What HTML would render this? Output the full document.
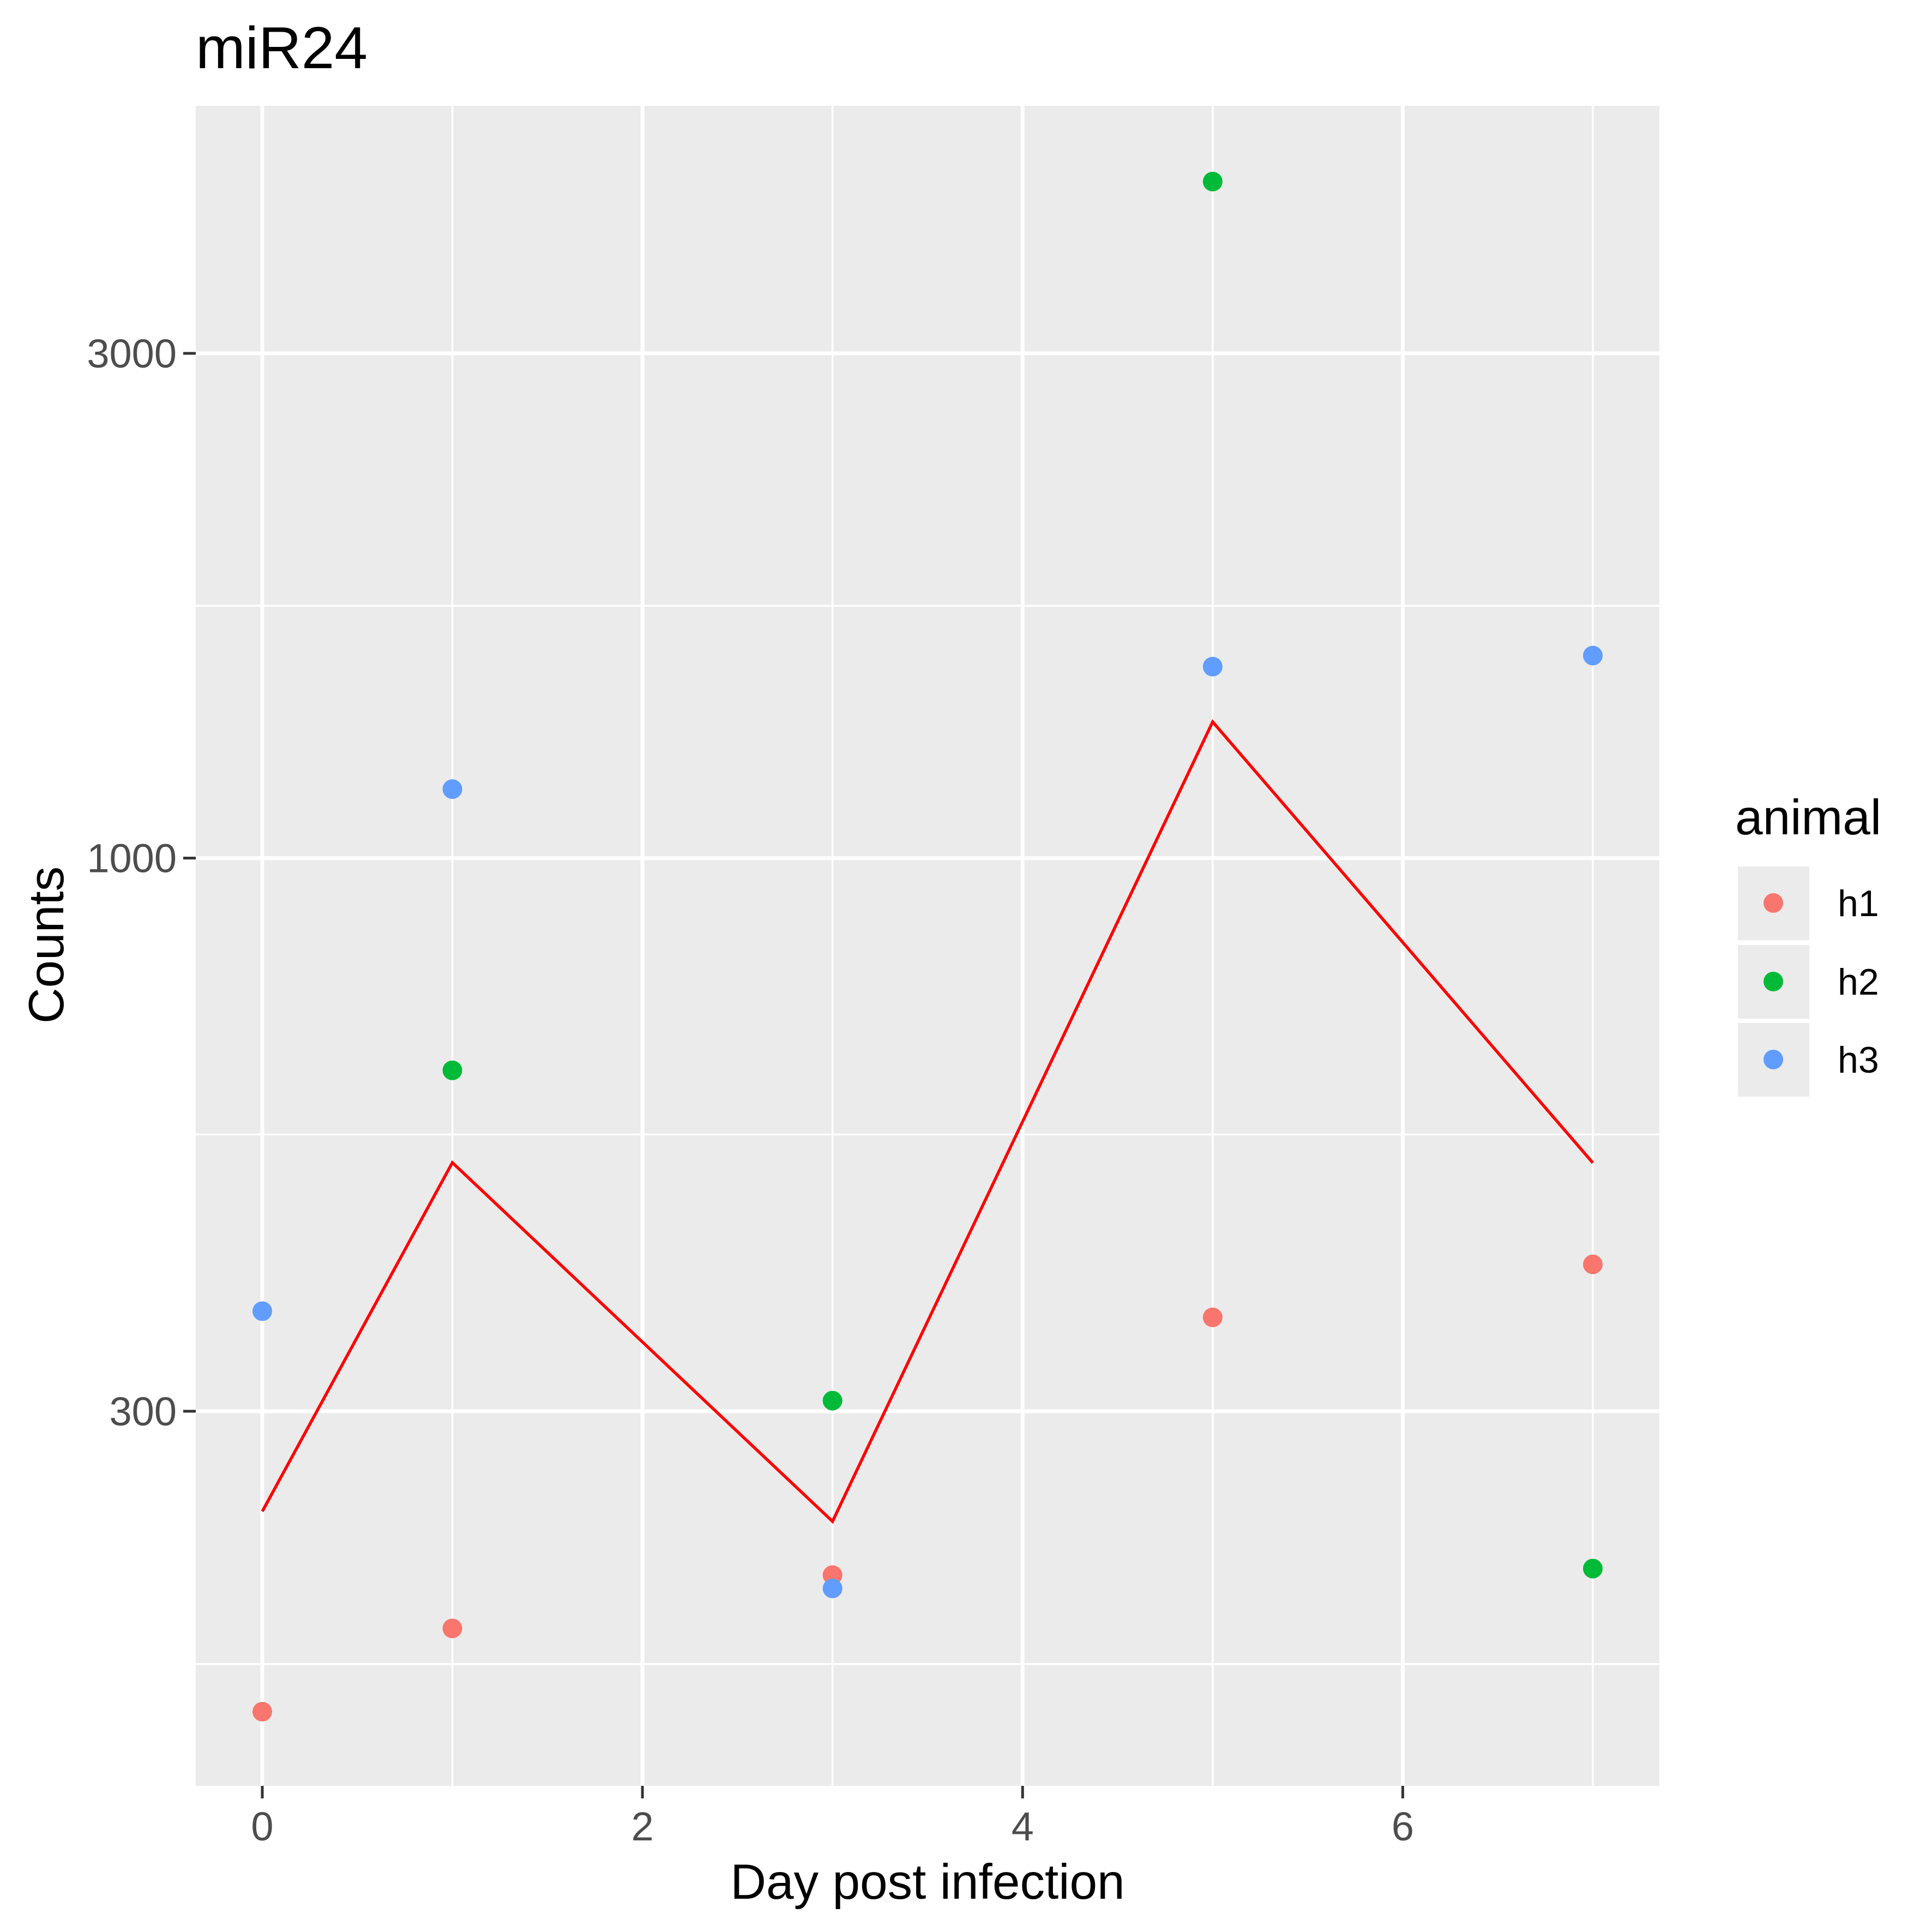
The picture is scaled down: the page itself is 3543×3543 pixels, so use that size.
<!DOCTYPE html>
<html><head><meta charset="utf-8"><style>html,body{margin:0;padding:0;background:#fff}svg{display:block}text{font-family:"Liberation Sans",Arial,sans-serif}</style></head>
<body>
<svg id="chart" width="3543" height="3543" viewBox="0 0 3543 3543" xmlns="http://www.w3.org/2000/svg">
<text x="359" y="125" font-size="109" fill="#000">miR24</text>
<rect x="359" y="194" width="2684" height="3081" fill="#EBEBEB"/>
<g id="grid"></g>
<g id="axes"></g>
<g id="marks"></g>
<text x="1701" y="3482" font-size="91" text-anchor="middle" fill="#000">Day post infection</text>
<text transform="translate(116,1733) rotate(-90)" font-size="91" text-anchor="middle" fill="#000">Counts</text>
<g id="legend">
<text x="3182" y="1530" font-size="91" fill="#000">animal</text>
</g>
</svg>
<script>
const days = [0, 1, 3, 5, 7];
const h1 = [156, 187, 210, 368, 413];
const h2 = [null, 630, 307, 4360, 213];
const h3 = [373, 1162, 204, 1517, 1554];
const seriesNames = ["h1", "h2", "h3"];
const xTicks = [0, 2, 4, 6];
const xMinor = [1, 3, 5, 7];
const yTicks = [300, 1000, 3000];
const yMinor = [173, 548, 1732];

const colors = ["#F8766D", "#00BA38", "#619CFF"];
const NS = "http://www.w3.org/2000/svg";
const PL = 359, PR = 3043, PT = 194, PB = 3275;
function xs(d){ return 481 + d * (2921 - 481) / 7; }
function ys(v){ return 648 + (Math.log10(3000) - Math.log10(v)) * 1940; }
function mk(tag, attrs, parent){ const e = document.createElementNS(NS, tag); for (const k in attrs) e.setAttribute(k, attrs[k]); parent.appendChild(e); return e; }
const grid = document.getElementById("grid"), axes = document.getElementById("axes"), marks = document.getElementById("marks"), legend = document.getElementById("legend");

yMinor.forEach(v => { const l = mk("line", {x1: PL, x2: PR, y1: ys(v), y2: ys(v), stroke: "#fff", "stroke-width": 3.5}, grid);

 });
xMinor.forEach(d => { const l = mk("line", {x1: xs(d), x2: xs(d), y1: PT, y2: PB, stroke: "#fff", "stroke-width": 3.5}, grid);

 });
yTicks.forEach(v => { const y = ys(v);
const l = mk("line", {x1: PL, x2: PR, y1: y, y2: y, stroke: "#fff", "stroke-width": 7}, grid);


const t = mk("line", {x1: PL - 23, x2: PL, y1: y, y2: y, stroke: "#333", "stroke-width": 5}, axes);


const tx = mk("text", {x: PL - 35, y: y + 26, "font-size": 74, "text-anchor": "end", fill: "#4D4D4D"}, axes);
tx.textContent = v;

 });
xTicks.forEach(d => { const x = xs(d);
const l = mk("line", {x1: x, x2: x, y1: PT, y2: PB, stroke: "#fff", "stroke-width": 7}, grid);


const t = mk("line", {x1: x, x2: x, y1: PB, y2: PB + 23, stroke: "#333", "stroke-width": 5}, axes);


const tx = mk("text", {x: x, y: PB + 100, "font-size": 74, "text-anchor": "middle", fill: "#4D4D4D"}, axes);
tx.textContent = d;

 });

const series = [h1, h2, h3];
const pts = days.map((d, i) => { const vals = series.map(s => s[i]).filter(v => v != null);
const m = Math.pow(10, vals.reduce((a, v) => a + Math.log10(v), 0) / vals.length);
return xs(d) + "," + ys(m); });
const line = mk("polyline", {points: pts.join(" "), fill: "none", stroke: "#FF0000", "stroke-width": 5.5}, marks);



series.forEach((s, si) => s.forEach((v, i) => { if (v == null) return;
const c = mk("circle", {cx: xs(days[i]), cy: ys(v), r: 18, fill: colors[si]}, marks);

 }));

const keyY = [1589, 1733, 1876];
seriesNames.forEach((n, i) => {
const r = mk("rect", {x: 3187, y: keyY[i], width: 131, height: 135, fill: "#EBEBEB"}, legend);


const c = mk("circle", {cx: 3252, cy: keyY[i] + 67, r: 18, fill: colors[i]}, legend);


const t = mk("text", {x: 3370, y: keyY[i] + 91, "font-size": 68, fill: "#000"}, legend);
t.textContent = n;


});
</script>
</body></html>
